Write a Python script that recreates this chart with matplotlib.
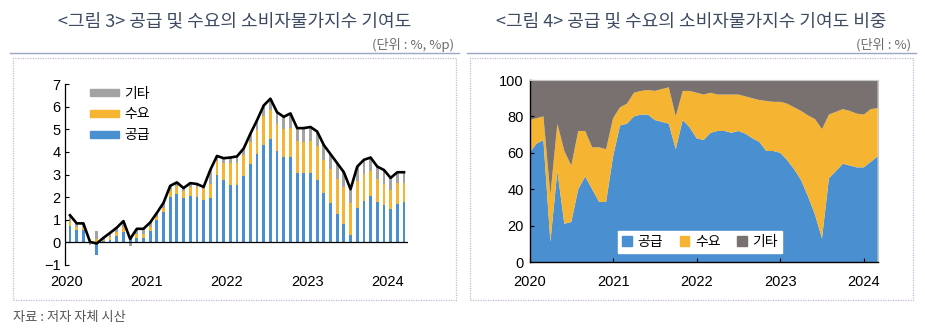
import matplotlib.pyplot as plt
import numpy as np
from matplotlib.patches import Patch, Rectangle
from matplotlib.lines import Line2D

plt.rcParams["font.family"] = ["Noto Sans CJK KR", "DejaVu Sans"]

# monthly, 2020.1 ~ 2024.3
months = np.arange(51)
year_ticks = [0, 12, 24, 36, 48]
year_labels = ["2020", "2021", "2022", "2023", "2024"]

# <그림 3> 소비자물가 상승률 및 기여도 (%, %p)
cpi_total = [1.2, 0.84, 0.84, 0.02, -0.05, 0.2, 0.42, 0.65, 0.94, 0.15, 0.6, 0.6,
             0.88, 1.3, 1.75, 2.5, 2.65, 2.4, 2.62, 2.58, 2.45, 3.2, 3.82, 3.72,
             3.75, 3.8, 4.15, 4.8, 5.4, 6.05, 6.35, 5.75, 5.55, 5.7, 5.05, 5.05,
             5.1, 4.9, 4.3, 3.9, 3.5, 3.1, 2.35, 3.35, 3.65, 3.75, 3.35, 3.2,
             2.85, 3.1, 3.1]
supply = [0.72, 0.55, 0.56, 0.05, -0.55, 0.04, 0.09, 0.26, 0.44, 0.2, 0.2, 0.2,
          0.51, 0.98, 1.33, 2.0, 2.15, 1.94, 2.04, 1.99, 1.86, 1.98, 2.98, 2.75,
          2.55, 2.55, 2.95, 3.46, 3.89, 4.3, 4.57, 4.05, 3.77, 3.76, 3.08, 3.08,
          3.06, 2.74, 2.19, 1.76, 1.26, 0.81, 0.31, 1.54, 1.83, 2.03, 1.78, 1.66,
          1.48, 1.71, 1.8]
demand = [0.22, 0.12, 0.11, 0.1, 0.15, 0.08, 0.13, 0.21, 0.23, 0.1, 0.18, 0.17,
          0.18, 0.13, 0.19, 0.32, 0.34, 0.32, 0.42, 0.46, 0.49, 0.58, 0.61, 0.74,
          0.94, 0.95, 0.91, 0.96, 1.08, 1.27, 1.27, 1.18, 1.22, 1.31, 1.39, 1.36,
          1.43, 1.52, 1.46, 1.48, 1.56, 1.63, 1.41, 1.17, 1.19, 1.12, 1.0, 0.94,
          0.83, 0.9, 0.82]
other = [0.26, 0.17, 0.17, -0.13, 0.35, 0.08, 0.2, 0.18, 0.27, -0.15, 0.22, 0.23,
         0.19, 0.19, 0.23, 0.18, 0.16, 0.14, 0.16, 0.13, 0.1, 0.64, 0.23, 0.23,
         0.26, 0.3, 0.29, 0.38, 0.43, 0.48, 0.51, 0.52, 0.56, 0.63, 0.58, 0.61,
         0.61, 0.64, 0.65, 0.66, 0.68, 0.66, 0.63, 0.64, 0.63, 0.6, 0.57, 0.6,
         0.54, 0.49, 0.48]

# <그림 4> 기여도 비중 (%)
supply_share = [60, 65, 67, 11, 50, 21, 22, 40, 47, 40, 33, 33,
                58, 75, 76, 80, 81, 81, 78, 77, 76, 62, 78, 74,
                68, 67, 71, 72, 72, 71, 72, 70.5, 68, 66, 61, 61,
                60, 56, 51, 45, 36, 26, 13, 46, 50, 54, 53, 52,
                52, 55, 58]
demand_share = [18, 14, 13, 26, 26, 40, 31, 32, 25, 23, 30, 29,
                21, 10, 11, 13, 13, 13.5, 16, 18, 20, 18, 16, 20,
                25, 25, 22, 20, 20, 21, 20, 20.5, 22, 23, 27.5, 27,
                28, 31, 34, 38, 44.5, 52.5, 60, 35, 32.5, 30, 30, 29.5,
                29, 29, 26.5]
other_share = [22, 21, 20, 63, 24, 39, 47, 28, 28, 37, 37, 38,
               21, 15, 13, 7, 6, 5.5, 6, 5, 4, 20, 6, 6,
               7, 8, 7, 8, 8, 8, 8, 9, 10, 11, 11.5, 12,
               12, 13, 15, 17, 19.5, 21.5, 27, 19, 17.5, 16, 17, 18.5,
               19, 16, 15.5]

BLUE = "#4a8fd0"
ORANGE = "#f6b433"
GRAY = "#a3a3a3"
DARK_GRAY = "#78716f"
TITLE_C = "#3c4a62"
NUM_FONT = "Liberation Sans"

fig = plt.figure(figsize=(9.25, 3.34), dpi=100)
W, H = 925, 334


def fx(px):
    return px / W


def fy(py):
    return 1 - py / H


# panel frames, titles, unit notes
for x0, x1, title, unit in [
    (13, 456, "<그림 3> 공급 및 수요의 소비자물가지수 기여도", "(단위 : %, %p)"),
    (470, 913, "<그림 4> 공급 및 수요의 소비자물가지수 기여도 비중", "(단위 : %)"),
]:
    fig.text(fx((x0 + x1) / 2), fy(21), title, ha="center", va="center",
             fontsize=13, color=TITLE_C)
    fig.text(fx(x1 - 2), fy(45), unit, ha="right", va="center",
             fontsize=9.5, color="#6b6b6b")
    fig.add_artist(Line2D([fx(x0 - 3), fx(x1 + 3)], [fy(53), fy(53)],
                          color="#9aa6c6", lw=1))
    fig.add_artist(Rectangle((fx(x0), fy(300)), fx(x1 - x0), 242 / H,
                             fill=False, ec="#cdb6d4", lw=0.9, ls=(0, (1, 1))))

fig.text(fx(13), fy(318), "자료 : 저자 자체 시산", ha="left", va="center",
         fontsize=9.5, color="#555555")

# ---- left: stacked contribution bars + CPI line
ax1 = fig.add_axes([fx(65), fy(265), fx(408 - 65), (265 - 84) / H])
pos_base = np.zeros(len(months))
neg_base = np.zeros(len(months))
for vals, color in [(supply, BLUE), (demand, ORANGE), (other, GRAY)]:
    v = np.asarray(vals, dtype=float)
    base = np.where(v >= 0, pos_base, neg_base)
    ax1.bar(months, v, bottom=base, width=0.42, color=color, lw=0)
    pos_base += np.clip(v, 0, None)
    neg_base += np.clip(v, None, 0)
ax1.plot(months, cpi_total, color="black", lw=1.9, zorder=5)
ax1.axhline(0, color="black", lw=0.9, zorder=4)

ax1.set_ylim(-1, 7)
ax1.set_xlim(-0.75, 50.6)
ax1.set_yticks(range(-1, 8))
ax1.set_xticks([t - 0.5 for t in year_ticks])
ax1.set_xticklabels(year_labels)
for s in ["top", "right", "bottom"]:
    ax1.spines[s].set_visible(False)
ax1.spines["left"].set_linewidth(0.9)
ax1.tick_params(axis="y", direction="in", length=3, width=0.8, pad=3,
                labelsize=10.5)
ax1.tick_params(axis="x", direction="in", length=0, pad=7, labelsize=10.5)
for lab in ax1.get_xticklabels() + ax1.get_yticklabels():
    lab.set_fontfamily(NUM_FONT)

handles1 = [Patch(color=GRAY, label="기타"), Patch(color=ORANGE, label="수요"),
            Patch(color=BLUE, label="공급")]
ax1.legend(handles=handles1, loc="upper left", bbox_to_anchor=(0.035, 1.055),
           frameon=False, fontsize=10, handlelength=2.1, handleheight=0.45,
           labelspacing=0.5, handletextpad=0.4)

# ---- right: share area chart
ax2 = fig.add_axes([fx(529.5), fy(262), fx(877.7 - 529.5), (262 - 80) / H])
ax2.stackplot(months, supply_share, demand_share, other_share,
              colors=[BLUE, ORANGE, DARK_GRAY], lw=0)
ax2.set_ylim(0, 100)
ax2.set_xlim(0, 50)
ax2.set_yticks(range(0, 101, 20))
ax2.set_xticks(year_ticks)
ax2.set_xticklabels(year_labels)
for s in ["top", "right"]:
    ax2.spines[s].set_color("#c8c8c8")
    ax2.spines[s].set_linewidth(0.8)
for s in ["left", "bottom"]:
    ax2.spines[s].set_linewidth(1.0)
ax2.tick_params(axis="y", direction="in", length=3, width=0.8,
                labelsize=10.5, pad=4)
ax2.tick_params(axis="x", direction="in", length=3, width=0.8,
                labelsize=10.5, pad=9)
for lab in ax2.get_xticklabels() + ax2.get_yticklabels():
    lab.set_fontfamily(NUM_FONT)

handles2 = [Patch(color=BLUE, label="공급"), Patch(color=ORANGE, label="수요"),
            Patch(color=DARK_GRAY, label="기타")]
leg = ax2.legend(handles=handles2, loc="lower center", bbox_to_anchor=(0.49, 0.01),
                 ncol=3, fontsize=10, handlelength=0.7, handleheight=0.7,
                 handletextpad=0.4, columnspacing=1.2, fancybox=False,
                 framealpha=1, edgecolor="white", borderpad=0.3)

fig.savefig("out.png", dpi=100)
